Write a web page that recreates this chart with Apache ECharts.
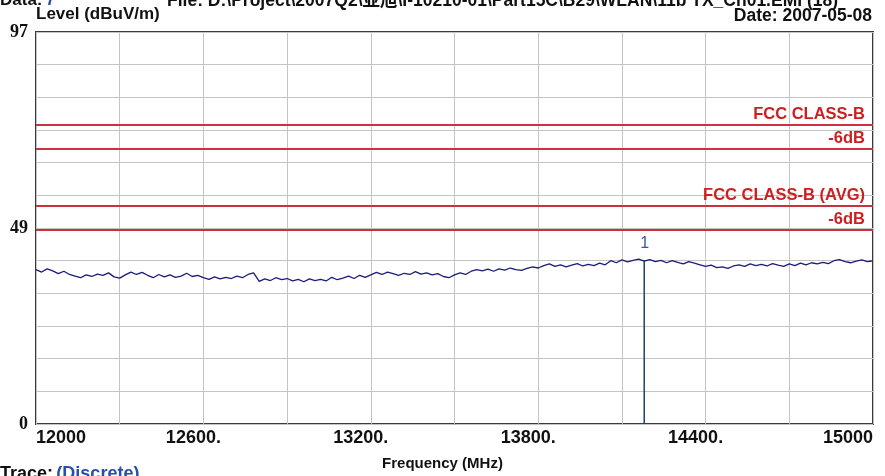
<!DOCTYPE html>
<html>
<head>
<meta charset="utf-8">
<script src="https://cdn.jsdelivr.net/npm/echarts@6/dist/echarts.min.js"></script>
<style>
html,body{margin:0;padding:0;background:#fff;}
#c{width:885px;height:476px;}
</style>
</head>
<body>
<div id="c"></div>
<script>
// ---- data ----
const freqStart = 12000, freqStep = 20;
const levels = [
 38.2,37.6,38.4,37.9,37.2,37.8,37.0,36.6,36.2,36.9,
 36.5,37.1,36.8,37.4,36.4,36.1,36.9,37.6,37.0,37.5,
 36.8,36.2,37.0,36.4,36.9,36.3,36.6,37.3,36.5,36.8,
 36.2,35.8,36.4,35.9,36.3,36.0,36.6,36.2,37.0,37.4,
 35.3,35.9,35.5,36.2,35.7,36.0,35.4,35.8,35.2,35.9,
 35.5,35.8,35.4,36.3,35.7,36.1,36.6,36.0,36.8,36.3,
 36.9,37.5,37.0,37.6,37.2,36.8,37.3,37.0,37.7,37.1,
 37.4,36.9,37.2,36.5,36.2,36.9,37.4,37.0,37.8,38.2,
 37.9,38.3,37.8,38.4,38.1,38.6,38.2,38.0,38.5,38.9,
 38.6,39.2,39.6,39.0,39.4,38.9,39.3,39.7,39.1,39.5,
 39.2,39.8,39.4,40.4,39.9,40.6,40.1,40.5,40.8,40.3,
 40.7,40.2,40.5,39.9,40.4,40.0,39.6,40.2,39.8,39.4,
 39.0,39.3,38.7,38.9,38.5,39.1,39.4,39.0,39.6,39.2,
 39.5,39.1,39.7,39.3,39.0,39.6,39.2,39.8,39.4,39.9,
 39.6,40.0,39.7,40.4,40.7,40.2,39.9,40.3,40.6,40.2,
 40.4
];
const limitNames = ['FCC CLASS-B', '-6dB', 'FCC CLASS-B (AVG)', '-6dB'];
const limitValues = [74, 68, 54, 48];
const markerFreq = 14180;
const markerLevel = 40.6;
const markerName = '1';
const yTickLabels = {0: '0', 6: '49', 12: '97'};
const xLabelFreqs = [12000, 12600, 13200, 13800, 14400, 15000];
const xLabelTexts = ['12000', '12600.', '13200.', '13800.', '14400.', '15000'];

// ---- chart ----
const traceData = levels.map((v, i) => [freqStart + i * freqStep, v]);
const yMax = 97, yInterval = 97 / 12;
const chart = echarts.init(document.getElementById('c'), null, {renderer: 'canvas'});
const sans = "'Liberation Sans', Arial, 'Noto Sans CJK SC', sans-serif";
const serif = "'Liberation Serif', 'Times New Roman', serif";
const red = '#c8323c';
chart.setOption({
  animation: false,
  backgroundColor: '#ffffff',
  grid: {left: 36, right: 12, top: 32, bottom: 47, show: true, borderColor: '#3a3a3a', borderWidth: 2, backgroundColor: 'transparent'},
  xAxis: {
    type: 'value', min: 12000, max: 15000, interval: 300,
    axisLine: {show: false}, axisTick: {show: false},
    splitLine: {show: true, lineStyle: {color: '#c4c4c4', width: 1}},
    axisLabel: {
      fontFamily: sans, fontWeight: 'bold', fontSize: 18, color: '#111', margin: 5,
      alignMinLabel: 'left', alignMaxLabel: 'right',
      formatter: function (v) {
        const k = xLabelFreqs.indexOf(Math.round(v));
        if (k < 0) return '';
        if (k === 0 || k === xLabelFreqs.length - 1) return xLabelTexts[k];
        return '{m|' + xLabelTexts[k] + '}';
      },
      rich: {m: {fontFamily: sans, fontWeight: 'bold', fontSize: 18, color: '#111', padding: [0, 20, 0, 0]}}
    },
    name: 'Frequency (MHz)', nameLocation: 'middle', nameGap: 32,
    nameTextStyle: {fontFamily: sans, fontWeight: 'bold', fontSize: 15, color: '#111', padding: [0, 24, 0, 0]}
  },
  yAxis: {
    type: 'value', min: 0, max: yMax, interval: yInterval,
    axisLine: {show: false}, axisTick: {show: false},
    splitLine: {show: true, lineStyle: {color: '#c4c4c4', width: 1}},
    axisLabel: {
      fontFamily: serif, fontWeight: 'bold', fontSize: 18, color: '#111', margin: 8,
      formatter: function (v) {
        const idx = Math.round(v / yInterval);
        return yTickLabels[idx] !== undefined ? yTickLabels[idx] : '';
      }
    }
  },
  graphic: [
    {type: 'text', left: 0, top: -8, style: {text: '{b|Data:} {c|7}', rich: {b: {fontFamily: sans, fontWeight: 'bold', fontSize: 17, fill: '#111'}, c: {fontFamily: sans, fontWeight: 'bold', fontSize: 17, fill: '#2850a8'}}}},
    {type: 'text', left: 167, top: -8, style: {text: 'File: D:\\Project\\2007Q2\\亚旭\\I-10210-01\\Part15C\\B29\\WLAN\\11b TX_Ch01.EMI (18)', fontFamily: sans, fontWeight: 'bold', fontSize: 17.5, fill: '#111'}},
    {type: 'text', left: 36, top: 6, style: {text: 'Level (dBuV/m)', fontFamily: sans, fontWeight: 'bold', fontSize: 17, fill: '#111'}},
    {type: 'text', right: 13, top: 7, style: {text: 'Date: 2007-05-08', fontFamily: sans, fontWeight: 'bold', fontSize: 17.5, fill: '#111'}},
    {type: 'text', left: 0, top: 465, style: {text: '{b|Trace:} {c|(Discrete)}', rich: {b: {fontFamily: sans, fontWeight: 'bold', fontSize: 18, fill: '#111'}, c: {fontFamily: sans, fontWeight: 'bold', fontSize: 18, fill: '#2850a8'}}}}
  ],
  series: [
    {
      type: 'line', data: traceData, showSymbol: false, symbol: 'none',
      lineStyle: {color: '#1c1c7a', width: 1.3}, z: 3,
      markLine: {
        silent: true, symbol: 'none',
        lineStyle: {color: red, width: 2, type: 'solid'},
        label: {show: true, position: 'insideEndTop', distance: [0, 2], padding: [0, 8, 0, 0], fontFamily: sans, fontWeight: 'bold', fontSize: 16.5, color: '#cc1f1f', formatter: '{b}'},
        data: limitValues.map((v, i) => ({name: limitNames[i], yAxis: v}))
      }
    },
    {
      type: 'line', data: [[markerFreq, 0], [markerFreq, markerLevel]], symbol: 'none', z: 4,
      lineStyle: {color: '#20406a', width: 1.5},
      endLabel: {show: true, formatter: markerName, fontFamily: sans, fontSize: 16, color: '#3a5a9a', offset: [-12, -16]}
    }
  ]
});
</script>
</body>
</html>
